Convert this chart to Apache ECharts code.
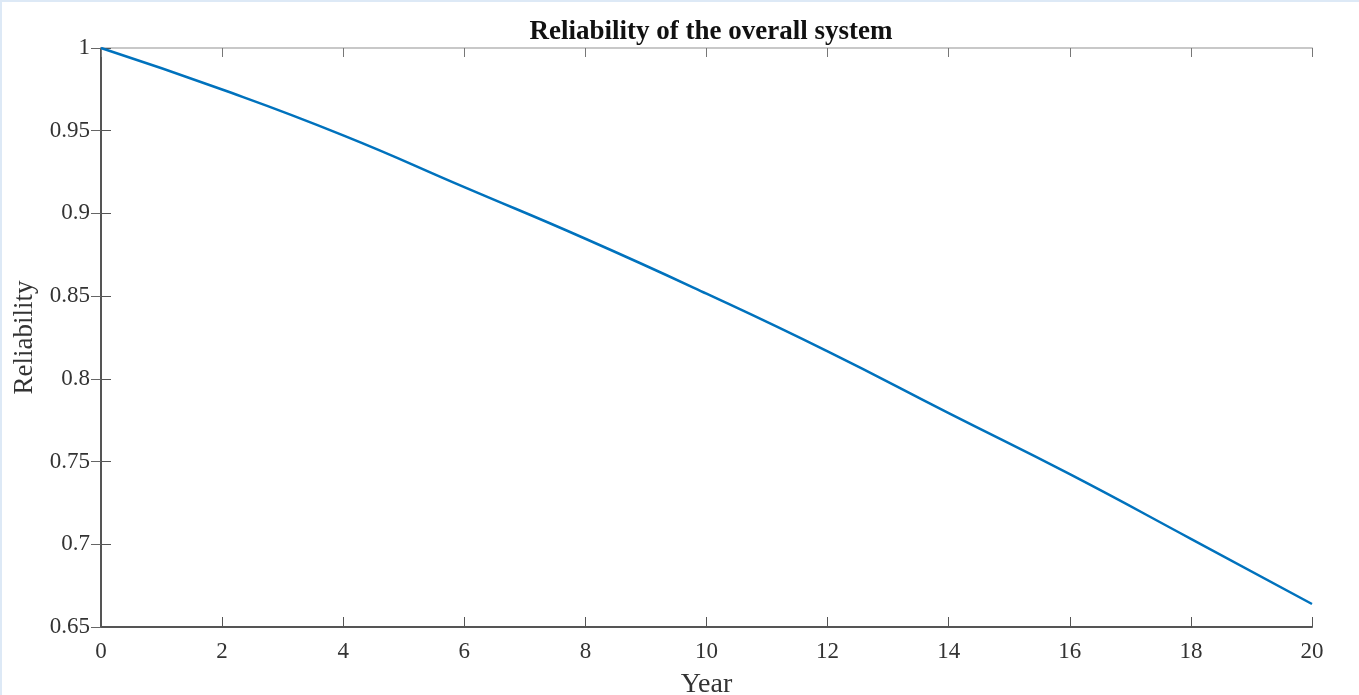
<!DOCTYPE html>
<html>
<head>
<meta charset="utf-8">
<script src="https://cdn.jsdelivr.net/npm/echarts@6/dist/echarts.min.js"></script>
<style>
  html, body { margin: 0; padding: 0; background: #fff; }
  #chart { position: absolute; left: 0; top: 0; width: 1359px; height: 695px; }
  .edge { position: absolute; background: #dde9f6; }
</style>
</head>
<body>
<div id="chart"></div>
<div class="edge" style="left:0;top:0;width:2px;height:695px"></div>
<div class="edge" style="left:0;top:0;width:1359px;height:2px"></div>
<script>
// data
var years = [0, 2, 4, 6, 8, 10, 12, 14, 16, 18, 20];
var reliability = [1, 0.9749, 0.9472, 0.9159, 0.8847, 0.8515, 0.8166, 0.7793, 0.7424, 0.7033, 0.6639];
var xTicks = [0, 2, 4, 6, 8, 10, 12, 14, 16, 18, 20];
var yTicks = [0.65, 0.7, 0.75, 0.8, 0.85, 0.9, 0.95, 1];

var points = years.map(function (y, i) { return [y, reliability[i]]; });

var myChart = echarts.init(document.getElementById('chart'));
var serif = '"Liberation Serif", "DejaVu Serif", serif';

var option = {
    animation: false,
    title: {
        text: 'Reliability of the overall system',
        left: 706,
        textAlign: 'center',
        top: 14,
        textStyle: { fontFamily: serif, fontWeight: 'bold', fontSize: 27, color: '#111' }
    },
    grid: { left: 101, right: 47, top: 48, bottom: 68, outerBoundsMode: 'none', containLabel: false },
    xAxis: [{
        type: 'value',
        min: xTicks[0],
        max: xTicks[xTicks.length - 1],
        interval: 2,
        name: 'Year',
        nameLocation: 'middle',
        nameGap: 44,
        nameTextStyle: { fontFamily: serif, fontSize: 28, color: '#333' },
        axisLine: { lineStyle: { color: '#555', width: 2 } },
        axisTick: { inside: true, length: 10, lineStyle: { color: '#555' } },
        axisLabel: { fontFamily: serif, fontSize: 23, color: '#333', margin: 13 },
        splitLine: { show: false }
    }, {
        type: 'value',
        position: 'top',
        min: xTicks[0],
        max: xTicks[xTicks.length - 1],
        interval: 2,
        axisLine: { show: true, lineStyle: { color: '#c8c8c8', width: 2 } },
        axisTick: { show: true, inside: true, length: 9, lineStyle: { color: '#777' } },
        axisLabel: { show: false },
        splitLine: { show: false }
    }],
    yAxis: [{
        type: 'value',
        min: yTicks[0],
        max: yTicks[yTicks.length - 1],
        interval: 0.05,
        name: 'Reliability',
        nameLocation: 'middle',
        nameGap: 62,
        nameTextStyle: { fontFamily: serif, fontSize: 27, color: '#333' },
        axisLine: { show: true, lineStyle: { color: '#555', width: 2 } },
        axisTick: { show: true, inside: true, length: 10, lineStyle: { color: '#555' } },
        axisLabel: { fontFamily: serif, fontSize: 23, color: '#333', margin: 11 },
        splitLine: { show: false }
    }, {
        type: 'value',
        position: 'right',
        min: yTicks[0],
        max: yTicks[yTicks.length - 1],
        interval: 0.05,
        axisLine: { show: true, lineStyle: { color: '#555', width: 2 } },
        axisTick: { show: true, inside: true, length: 10, lineStyle: { color: '#666' } },
        axisLabel: { show: false },
        splitLine: { show: false }
    }],
    series: [{
        type: 'line',
        data: points,
        smooth: true,
        showSymbol: false,
        lineStyle: { color: '#0072BD', width: 2.5 }
    }]
};

myChart.setOption(option);
</script>
</body>
</html>
